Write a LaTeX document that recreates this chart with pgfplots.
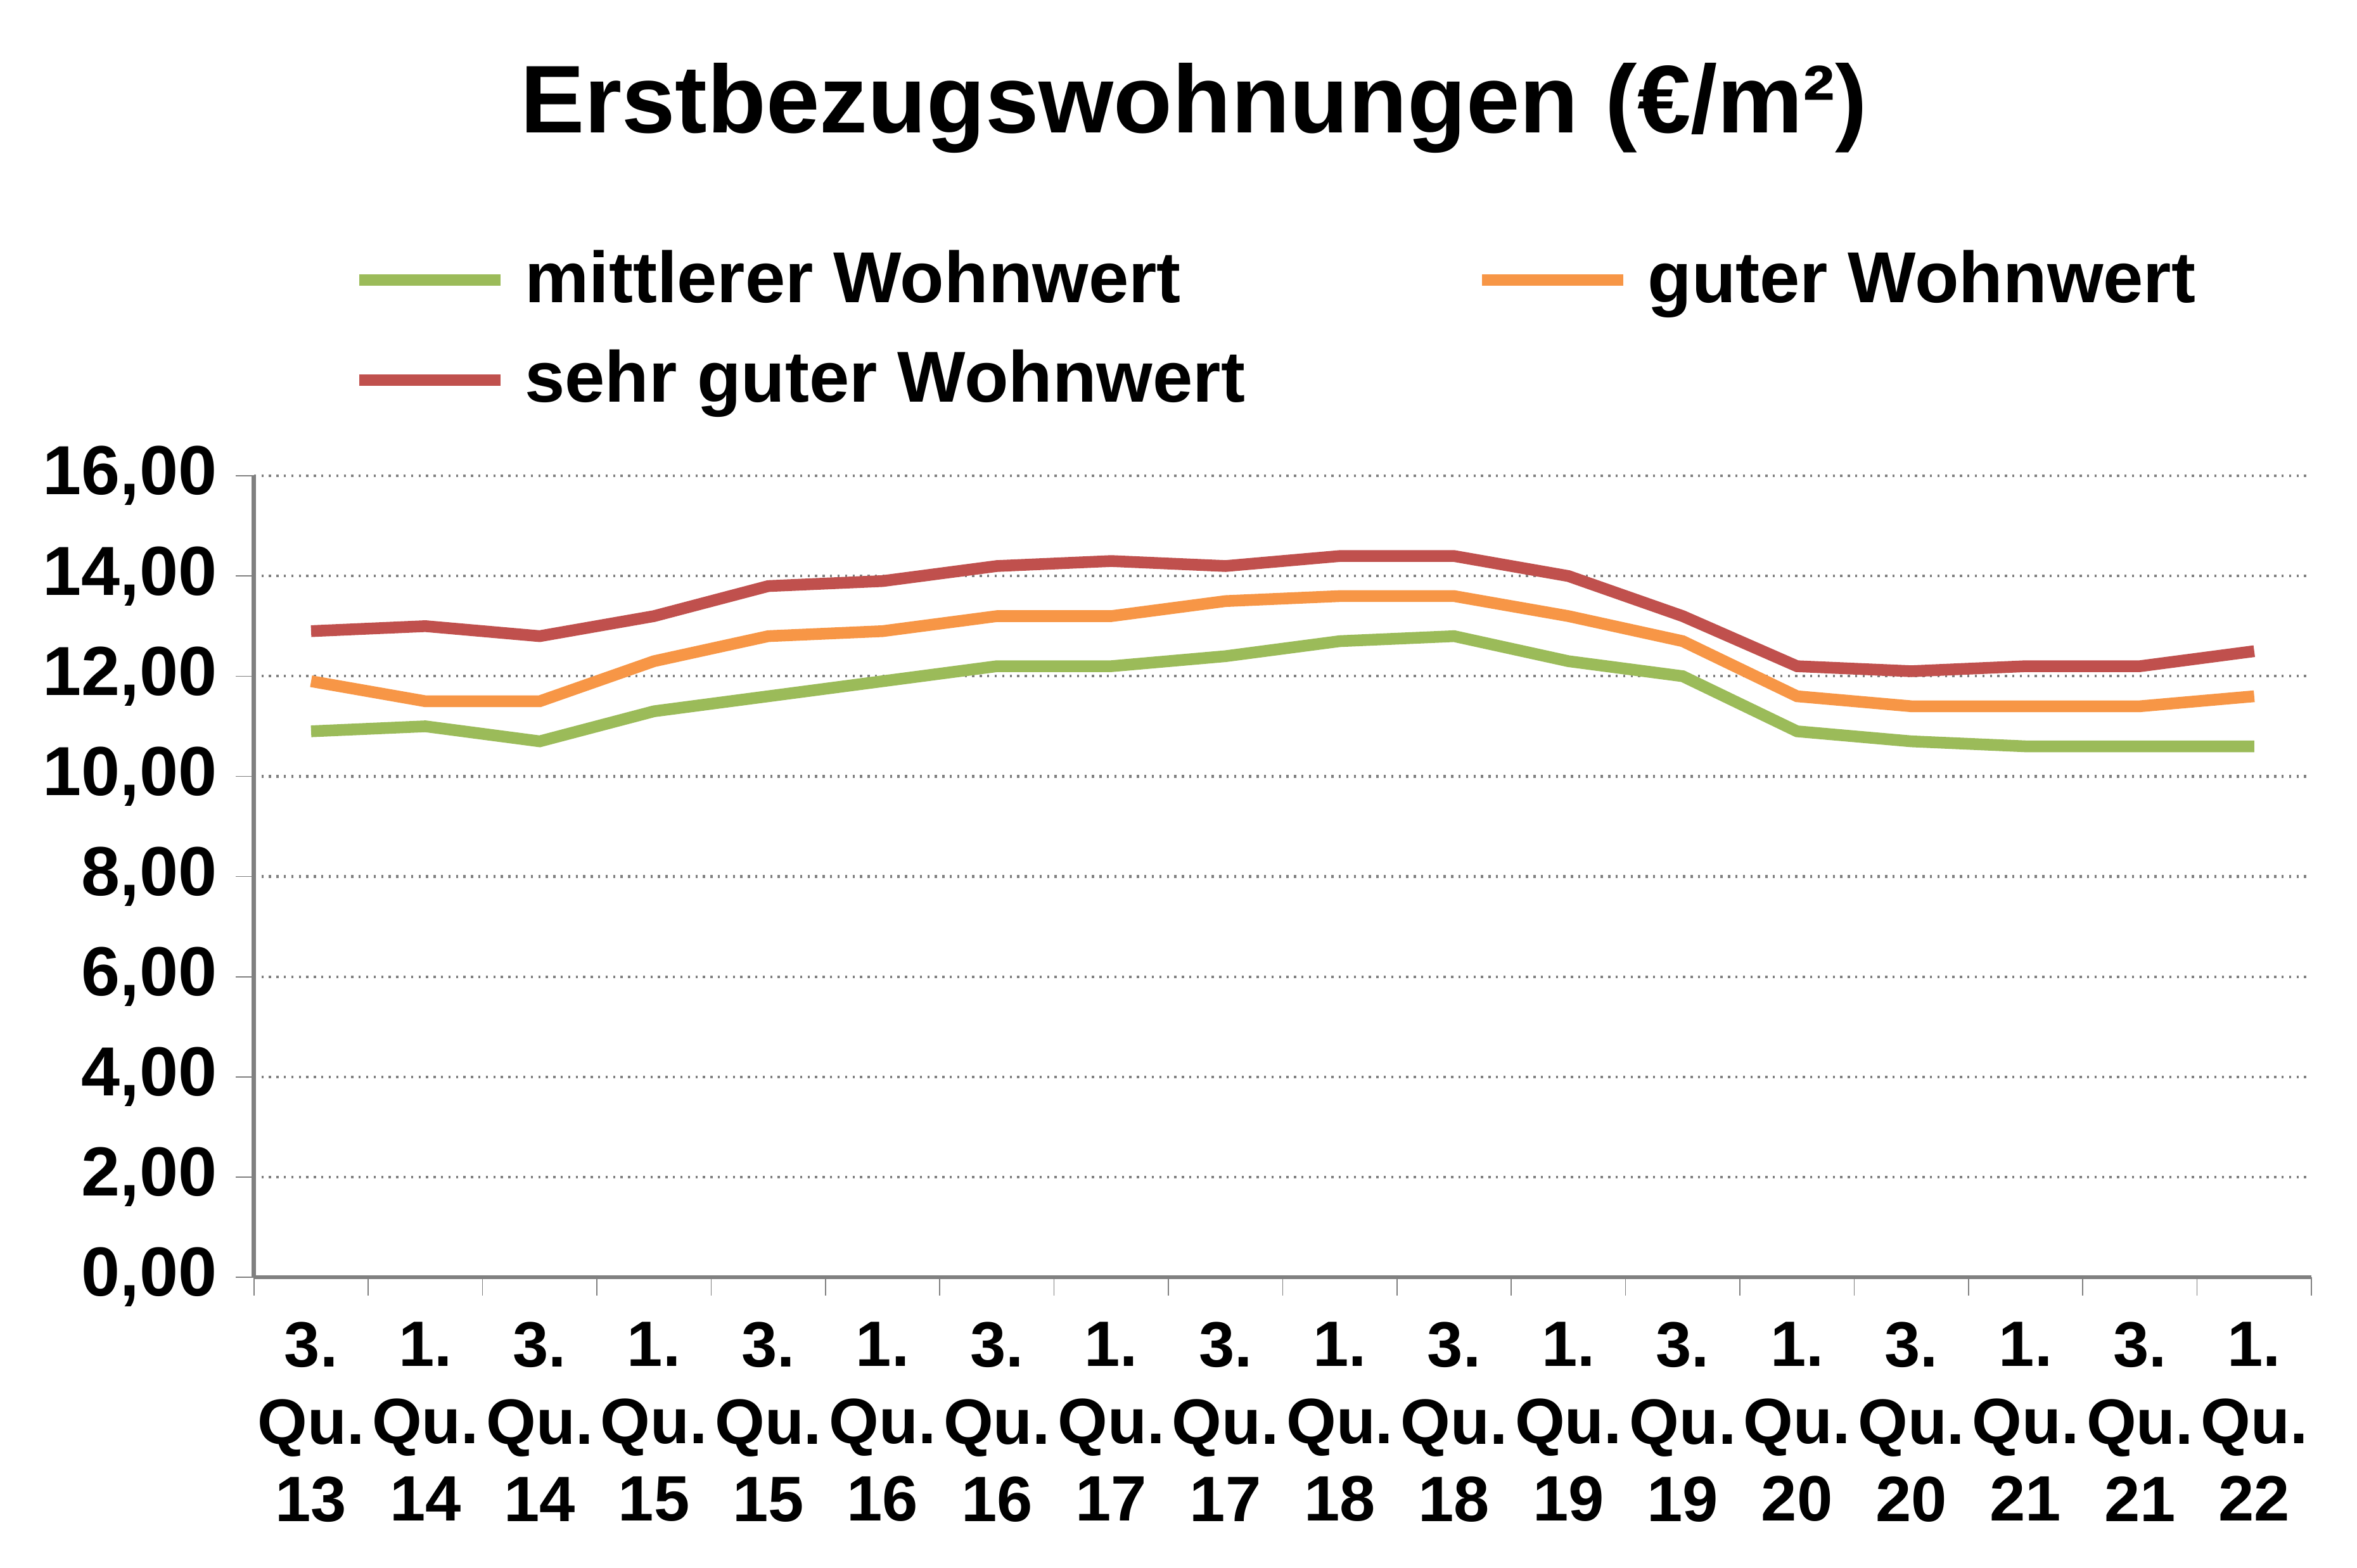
\documentclass[border=0pt]{standalone}
\usepackage{pgfplots}
\pgfplotsset{compat=1.18}
\usepackage{fontspec}
\setmainfont{Liberation Sans}
\definecolor{cg}{RGB}{155,187,89}
\definecolor{co}{RGB}{247,150,70}
\definecolor{cr}{RGB}{192,80,77}
\begin{document}
\begin{tikzpicture}
\useasboundingbox (0,0) rectangle (15.5,10.31);
\node[font=\bfseries\fontsize{18}{20}\selectfont] at (7.85,9.6) {Erstbezugswohnungen (€/m²)};
\begin{axis}[at={(1.67cm,1.91cm)},anchor=south west,
 scale only axis, width=13.53cm, height=5.27cm,
 xmin=-0.5, xmax=17.5, ymin=0, ymax=16,
 ytick={0,2,...,16},
 yticklabel style={/pgf/number format/.cd,fixed,fixed zerofill,precision=2,use comma},
 /pgf/number format/assume math mode=true,
 ticklabel style={font=\bfseries\fontsize{13}{14}\selectfont},
 xtick={0,...,17},
 xticklabels={{3.\\Qu.\\13},{1.\\Qu.\\14},{3.\\Qu.\\14},{1.\\Qu.\\15},{3.\\Qu.\\15},{1.\\Qu.\\16},{3.\\Qu.\\16},{1.\\Qu.\\17},{3.\\Qu.\\17},{1.\\Qu.\\18},{3.\\Qu.\\18},{1.\\Qu.\\19},{3.\\Qu.\\19},{1.\\Qu.\\20},{3.\\Qu.\\20},{1.\\Qu.\\21},{3.\\Qu.\\21},{1.\\Qu.\\22}},
 xticklabel style={align=center, yshift=-0.05cm, font=\bfseries\fontsize{12}{14.5}\selectfont},
 major x tick style={draw=none},
 minor xtick={-0.5,0.5,...,17.5},
 minor x tick style={gray},
 minor tick length=0.12cm,
 major tick length=0.12cm,
 tick align=outside,
 y tick style={gray},
 axis x line*=bottom, axis y line*=left,
 axis line style={gray, line width=0.8pt},
 ymajorgrids, grid style={gray, densely dotted, line width=0.5pt},
 legend columns=2,
 legend style={draw=none, fill=none, at={(0.04,1.31)}, anchor=north west,
   font=\bfseries\fontsize{13.5}{15}\selectfont, row sep=0.12cm,
   /tikz/every odd column/.append style={column sep=0.05cm},
   /tikz/every even column/.append style={column sep=1.45cm}},
 legend cell align=left,
 legend image code/.code={\draw[#1, line width=2.2pt] (0cm,0cm) -- (0.93cm,0cm);},
 every axis plot/.append style={line width=2.2pt, mark=none},
]
\addplot[cg] coordinates {(0,10.9)(1,11.0)(2,10.7)(3,11.3)(4,11.6)(5,11.9)(6,12.2)(7,12.2)(8,12.4)(9,12.7)(10,12.8)(11,12.3)(12,12.0)(13,10.9)(14,10.7)(15,10.6)(16,10.6)(17,10.6)};
\addlegendentry{mittlerer Wohnwert}
\addplot[co] coordinates {(0,11.9)(1,11.5)(2,11.5)(3,12.3)(4,12.8)(5,12.9)(6,13.2)(7,13.2)(8,13.5)(9,13.6)(10,13.6)(11,13.2)(12,12.7)(13,11.6)(14,11.4)(15,11.4)(16,11.4)(17,11.6)};
\addlegendentry{guter Wohnwert}
\addplot[cr] coordinates {(0,12.9)(1,13.0)(2,12.8)(3,13.2)(4,13.8)(5,13.9)(6,14.2)(7,14.3)(8,14.2)(9,14.4)(10,14.4)(11,14.0)(12,13.2)(13,12.2)(14,12.1)(15,12.2)(16,12.2)(17,12.5)};
\addlegendentry{sehr guter Wohnwert}
\end{axis}
\end{tikzpicture}
\end{document}
